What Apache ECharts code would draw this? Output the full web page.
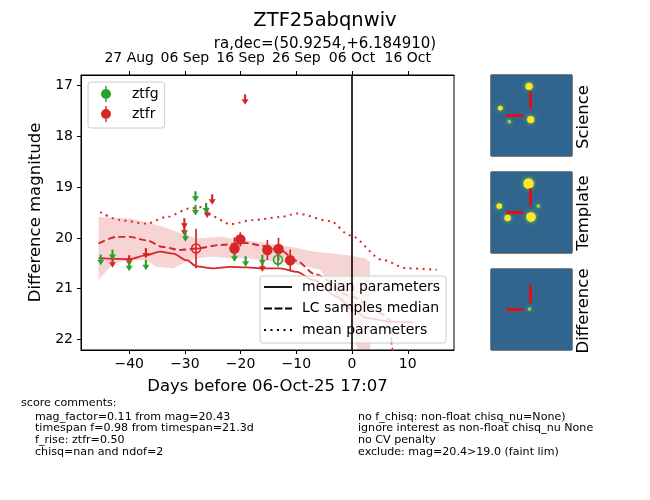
<!DOCTYPE html>
<html>
<head>
<meta charset="utf-8">
<script src="https://cdn.jsdelivr.net/npm/echarts@6/dist/echarts.min.js"></script>
<style>
  html, body { margin: 0; padding: 0; background: #fff; }
  #chart { width: 650px; height: 500px; }
</style>
</head>
<body>
<div id="chart"></div>
<script>
// Axis ticks
const xTicks = [-40, -30, -20, -10, 0, 10];
const topTickLabels = ['27 Aug', '06 Sep', '16 Sep', '26 Sep', '06 Oct', '16 Oct'];
const yTicks = [17, 18, 19, 20, 21, 22];

// Model curves: [days, mag]
const medianCurve = [[-45.5, 20.40], [-39.9, 20.42], [-36.9, 20.34], [-34.5, 20.27], [-32.1, 20.31], [-29.7, 20.44],
    [-27.9, 20.56], [-25.0, 20.60], [-21.9, 20.57], [-18.9, 20.58], [-16.0, 20.60], [-12.9, 20.60], [-9.9, 20.67],
    [-7.0, 20.83], [-2.7, 21.16], [0.2, 21.42], [2.7, 21.58], [6.8, 21.65], [11.0, 21.67]];
const samplesCurve = [[-45.5, 20.11], [-42.2, 19.98], [-39.9, 19.98], [-36.9, 20.05], [-33.9, 20.18], [-30.9, 20.24],
    [-27.9, 20.21], [-23.7, 20.14], [-18.9, 20.10], [-15.9, 20.16], [-12.9, 20.24], [-10.0, 20.45], [-6.6, 20.72],
    [-0.4, 21.14], [5.0, 21.48], [6.8, 21.62], [7.2, 22.17], [7.6, 23.0]];
const meanCurve = [[-45.2, 19.49], [-41.7, 19.65], [-36.9, 19.72], [-33.3, 19.59], [-29.1, 19.42], [-26.7, 19.39],
    [-25.0, 19.58], [-21.9, 19.73], [-17.8, 19.65], [-12.9, 19.59], [-9.9, 19.52], [-3.9, 19.67], [-0.4, 19.95],
    [5.6, 20.44], [9.8, 20.60], [15.2, 20.63]];

// LC samples spread (band edges)
const bandUpper = [[-45.5, 19.59], [-39.9, 19.62], [-36.9, 19.69], [-33.9, 19.78], [-30.9, 19.91], [-27.9, 20.01],
    [-23.7, 19.98], [-18.9, 20.05], [-15.5, 20.10], [-9.9, 20.20], [-7.0, 20.27], [-0.9, 20.34], [2.3, 20.40],
    [3.2, 20.47], [3.3, 23.0]];
const bandLower = [[-45.5, 20.83], [-42.8, 20.50], [-39.9, 20.44], [-36.9, 20.44], [-35.1, 20.57], [-32.1, 20.60],
    [-29.7, 20.47], [-27.9, 20.40], [-25.0, 20.37], [-21.9, 20.40], [-18.9, 20.40], [-15.9, 20.44], [-12.9, 20.48],
    [-9.9, 20.52], [-5.7, 20.63], [-3.9, 20.93], [-0.4, 21.62], [1.1, 22.2], [1.5, 23.0]];

// Photometry: detections [days, mag, err], limits [days, mag]
const ztfrDet = [[-21.1, 20.21, 0.22], [-20.05, 20.03, 0.14], [-15.2, 20.24, 0.2], [-13.2, 20.22, 0.22], [-11.1, 20.44, 0.21]];
const ztfrDetOpen = [[-28.0, 20.21, 0.39]];
const ztfgDetOpen = [[-13.3, 20.43, 0.14]];
const ztfgLim = [[-45.1, 20.44], [-43.0, 20.34], [-40.0, 20.56], [-37.0, 20.54], [-29.9, 19.98], [-28.1, 19.19],
    [-28.1, 19.46], [-26.2, 19.42], [-21.1, 20.37], [-19.1, 20.47], [-16.1, 20.44]];
const ztfrLim = [[-43.0, 20.49], [-40.0, 20.45], [-37.0, 20.31], [-30.1, 19.72], [-30.1, 19.86], [-26.0, 19.51],
    [-25.1, 19.25], [-19.2, 17.28], [-16.1, 20.57]];

// Cutout sources: [x frac, y frac, brightness]
const sciSources = [[0.47, 0.14, 0.6], [0.49, 0.55, 0.6], [0.115, 0.41, 0.3], [0.226, 0.575, 0.15]];
const tplSources = [[0.464, 0.143, 1.0], [0.494, 0.556, 0.9], [0.102, 0.42, 0.4], [0.205, 0.568, 0.5], [0.584, 0.42, 0.15]];
const difSources = [[0.477, 0.494, 0.1]];
const crossV = [[0.49, 0.2], [0.49, 0.42]];
const crossH = [[0.19, 0.5], [0.40, 0.5]];
const panelNames = ['Science', 'Template', 'Difference'];

const commentTitle = 'score comments:';
const commentsLeft = ['mag_factor=0.11 from mag=20.43', 'timespan f=0.98 from timespan=21.3d', 'f_rise: ztfr=0.50', 'chisq=nan and ndof=2'];
const commentsRight = ['no f_chisq: non-float chisq_nu=None)', 'ignore interest as non-float chisq_nu None', 'no CV penalty', 'exclude: mag=20.4>19.0 (faint lim)'];

const GREEN = '#2ca02c';
const RED = '#d62728';
const FONT = 'DejaVu Sans';

const chart = echarts.init(document.getElementById('chart'));

function minus(v) {
    return v < 0 ? '\u2212' + Math.abs(v) : String(v);
}

// vertical error bars; withCross adds the short horizontal stroke of the open red marker
function errorBars(rows, color, withCross) {
    return {
        type: 'custom', xAxisIndex: 0, yAxisIndex: 0, clip: true, z: 4, silent: true,
        data: rows,
        renderItem: function (params, api) {
            const d = api.value(0), m = api.value(1), e = api.value(2);
            const a = api.coord([d, m - e]);
            const b = api.coord([d, m + e]);
            const c = api.coord([d, m]);
            const kids = [{ type: 'line', shape: { x1: a[0], y1: a[1], x2: b[0], y2: b[1] }, style: { stroke: color, lineWidth: 1.7 } }];
            if (withCross) {
                kids.push({ type: 'line', shape: { x1: c[0] - 4.5, y1: c[1], x2: c[0] + 4.5, y2: c[1] }, style: { stroke: color, lineWidth: 1.5 }, z2: 10 });
            }
            return { type: 'group', children: kids };
        }
    };
}

function limits(rows, color) {
    return {
        type: 'custom', xAxisIndex: 0, yAxisIndex: 0, clip: true, z: 5, silent: true,
        data: rows,
        renderItem: function (params, api) {
            const p = api.coord([api.value(0), api.value(1)]);
            return {
                type: 'group', children: [
                    { type: 'line', shape: { x1: p[0], y1: p[1] - 5.5, x2: p[0], y2: p[1] + 0.5 }, style: { stroke: color, lineWidth: 2.2 } },
                    { type: 'polygon', shape: { points: [[p[0] - 3.5, p[1] - 0.5], [p[0] + 3.5, p[1] - 0.5], [p[0], p[1] + 5]] }, style: { fill: color } }
                ]
            };
        }
    };
}

function curve(points, type, width) {
    return {
        type: 'line', xAxisIndex: 0, yAxisIndex: 0, data: points, symbol: 'none', smooth: 0.3, smoothMonotone: 'x',
        z: 3, silent: true, lineStyle: { color: RED, width: width, type: type }
    };
}

// Cutout panels
const panelTops = [75, 172, 269];
const panelSources = [sciSources, tplSources, difSources];
const grids = [{ left: 81, top: 75, width: 373, height: 275, show: true, borderColor: '#000', borderWidth: 1 }];
const xAxes = [
    {
        type: 'value', gridIndex: 0, min: -48.65, max: 18.3, position: 'bottom',
        name: 'Days before 06-Oct-25 17:07', nameLocation: 'middle', nameGap: 28,
        nameTextStyle: { fontSize: 16.5, color: '#000', fontFamily: FONT },
        axisLine: { show: true, onZero: false, lineStyle: { color: '#000' } },
        axisTick: { customValues: xTicks, length: 4, lineStyle: { color: '#000' } },
        axisLabel: { customValues: xTicks, formatter: minus, fontSize: 14, color: '#000', margin: 7, fontFamily: FONT },
        splitLine: { show: false }
    },
    {
        type: 'value', gridIndex: 0, min: -48.65, max: 18.3, position: 'top',
        axisLine: { show: true, onZero: false, lineStyle: { color: '#000' } },
        axisTick: { customValues: xTicks, length: 4, lineStyle: { color: '#000' } },
        axisLabel: {
            customValues: xTicks, fontSize: 14, color: '#000', margin: 10, fontFamily: FONT,
            formatter: function (v) { return topTickLabels[xTicks.indexOf(v)] || ''; }
        },
        splitLine: { show: false }
    }
];
const yAxes = [{
    type: 'value', gridIndex: 0, min: 16.79, max: 22.21, inverse: true,
    name: 'Difference magnitude', nameLocation: 'middle', nameGap: 36,
    nameTextStyle: { fontSize: 16.5, color: '#000', fontFamily: FONT },
    axisLine: { show: true, onZero: false, lineStyle: { color: '#000' } },
    axisTick: { customValues: yTicks, length: 4, lineStyle: { color: '#000' } },
    axisLabel: { customValues: yTicks, fontSize: 14, color: '#000', margin: 8, fontFamily: FONT },
    splitLine: { show: false }
}];

const panelSeries = [];
panelTops.forEach(function (top, i) {
    const xi = xAxes.length, yi = yAxes.length;
    grids.push({ left: 491, top: top, width: 81, height: 81, show: true, borderColor: '#000', borderWidth: 1 });
    xAxes.push({ type: 'value', gridIndex: i + 1, min: 0, max: 1, show: false });
    yAxes.push({ type: 'value', gridIndex: i + 1, min: 0, max: 1, inverse: true, show: false });
    // image background filling the panel
    panelSeries.push({
        type: 'custom', xAxisIndex: xi, yAxisIndex: yi, silent: true, z: 1,
        data: [[0, 0]],
        renderItem: function (params, api) {
            const a = api.coord([0, 0]);
            const b = api.coord([1, 1]);
            return { type: 'rect', shape: { x: a[0], y: a[1], width: b[0] - a[0], height: b[1] - a[1] }, style: { fill: '#31658d' } };
        }
    });
    panelSeries.push({
        type: 'scatter', xAxisIndex: xi, yAxisIndex: yi, silent: true, z: 10,
        data: panelSources[i],
        symbolSize: function (v) { return 2.5 + 8 * v[2]; },
        itemStyle: {
            color: function (p) { return p.value[2] > 0.25 ? '#fde725' : '#8fd744'; },
            shadowBlur: 4, shadowColor: '#7ad151', opacity: 1
        }
    });
    panelSeries.push({
        type: 'lines', coordinateSystem: 'cartesian2d', xAxisIndex: xi, yAxisIndex: yi, silent: true, z: 11,
        data: [{ coords: crossV }, { coords: crossH }],
        lineStyle: { color: '#ff0000', width: 2.5, opacity: 1 }
    });
});

const graphics = [];
const FOOT = '11.1px "DejaVu Sans"';
graphics.push({ type: 'text', left: 21, top: 398, style: { text: commentTitle, font: FOOT, fill: '#000' } });
const commentY = [412, 423, 435, 447];
commentsLeft.forEach(function (t, i) {
    graphics.push({ type: 'text', left: 35, top: commentY[i], style: { text: t, font: FOOT, fill: '#000' } });
});
commentsRight.forEach(function (t, i) {
    graphics.push({ type: 'text', left: 358, top: commentY[i], style: { text: t, font: FOOT, fill: '#000' } });
});
const labelY = [117, 213, 311];
panelNames.forEach(function (t, i) {
    graphics.push({
        type: 'text', x: 584, y: labelY[i], rotation: Math.PI / 2,
        style: { text: t, font: '16.5px "DejaVu Sans"', fill: '#000', textAlign: 'center', textVerticalAlign: 'middle', verticalAlign: 'middle' }
    });
});

// legend handles drawn like matplotlib line handles
const solidIcon = 'path://M0,0h28v1.8h-28z';
const dashIcon = 'path://M0,0h8v1.9h-8z M10.5,0h8v1.9h-8z M21,0h7v1.9h-7z';
const dotIcon = 'path://M0,0h2v2h-2z M6.5,0h2v2h-2z M13,0h2v2h-2z M19.5,0h2v2h-2z M26,0h2v2h-2z';

const option = {
    animation: false,
    textStyle: { fontFamily: FONT },
    title: [
        { text: 'ZTF25abqnwiv', left: 'center', top: 6, textStyle: { fontSize: 19.5, fontWeight: 'normal', color: '#000', fontFamily: FONT } },
        { text: 'ra,dec=(50.9254,+6.184910)', left: 'center', top: 32, textStyle: { fontSize: 15, fontWeight: 'normal', color: '#000', fontFamily: FONT } }
    ],
    legend: [
        {
            data: ['ztfg', 'ztfr'], orient: 'vertical', left: 88, top: 82,
            padding: [4, 6, 6, 13], itemGap: 4, itemWidth: 14, itemHeight: 16,
            icon: 'path://M7.3,0h1.4v3h-1.4z M3,8a5,5 0 1,1 10,0a5,5 0 1,1 -10,0z M7.3,13h1.4v3h-1.4z',
            backgroundColor: 'rgba(255,255,255,0.8)', borderColor: '#cccccc', borderWidth: 1, borderRadius: 3,
            textStyle: { fontSize: 14, color: '#000', fontFamily: FONT, padding: [0, 0, 0, 14] },
            selectedMode: false
        },
        {
            data: [
                { name: 'median parameters', icon: solidIcon },
                { name: 'LC samples median', icon: dashIcon },
                { name: 'mean parameters', icon: dotIcon }
            ],
            orient: 'vertical', left: 260, top: 276,
            padding: [4, 6, 6, 4], itemGap: 7.5, itemWidth: 28, itemHeight: 14,
            backgroundColor: 'rgba(255,255,255,0.8)', borderColor: '#cccccc', borderWidth: 1, borderRadius: 3,
            textStyle: { fontSize: 14, color: '#000', fontFamily: FONT, padding: [0, 0, 0, 5] },
            selectedMode: false
        }
    ],
    grid: grids,
    xAxis: xAxes,
    yAxis: yAxes,
    graphic: graphics,
    series: [
        {
            type: 'custom', xAxisIndex: 0, yAxisIndex: 0, clip: true, z: 1, silent: true,
            data: bandUpper,
            renderItem: function (params, api) {
                if (params.dataIndex !== 0) return null;
                const pts = bandUpper.map(function (p) { return api.coord(p); })
                    .concat(bandLower.slice().reverse().map(function (p) { return api.coord(p); }));
                return { type: 'polygon', shape: { points: pts }, style: { fill: 'rgba(214,39,40,0.2)' } };
            }
        },
        Object.assign(curve(medianCurve, 'solid', 1.8), {
            markLine: {
                silent: true, symbol: ['none', 'none'], label: { show: false },
                lineStyle: { color: '#000', width: 1.6, type: 'solid' },
                data: [{ xAxis: 0 }]
            }
        }),
        curve(samplesCurve, [7, 3.5], 1.9),
        curve(meanCurve, [2, 4.5], 2),
        errorBars(ztfrDet, RED, false),
        errorBars(ztfrDetOpen, RED, true),
        errorBars(ztfgDetOpen, GREEN, false),
        limits(ztfrLim, RED),
        limits(ztfgLim, GREEN),
        {
            type: 'scatter', xAxisIndex: 0, yAxisIndex: 0, z: 6, silent: true, symbolSize: 10.5,
            data: ztfrDet.map(function (r) { return [r[0], r[1]]; }), itemStyle: { color: RED, opacity: 1 }
        },
        {
            type: 'scatter', xAxisIndex: 0, yAxisIndex: 0, z: 6, silent: true, symbol: 'circle', symbolSize: 9,
            data: ztfrDetOpen.map(function (r) { return [r[0], r[1]]; }),
            itemStyle: { color: 'rgba(0,0,0,0)', borderColor: RED, borderWidth: 1.5, opacity: 1 }
        },
        {
            type: 'scatter', xAxisIndex: 0, yAxisIndex: 0, z: 6, silent: true, symbol: 'circle', symbolSize: 9,
            data: ztfgDetOpen.map(function (r) { return [r[0], r[1]]; }),
            itemStyle: { color: 'rgba(0,0,0,0)', borderColor: GREEN, borderWidth: 1.5, opacity: 1 }
        },
        // legend-only entries
        { name: 'ztfg', type: 'scatter', xAxisIndex: 0, yAxisIndex: 0, data: [], itemStyle: { color: GREEN, opacity: 1 } },
        { name: 'ztfr', type: 'scatter', xAxisIndex: 0, yAxisIndex: 0, data: [], itemStyle: { color: RED, opacity: 1 } },
        { name: 'median parameters', type: 'line', xAxisIndex: 0, yAxisIndex: 0, data: [], symbol: 'none', itemStyle: { color: '#000' }, lineStyle: { color: '#000' } },
        { name: 'LC samples median', type: 'line', xAxisIndex: 0, yAxisIndex: 0, data: [], symbol: 'none', itemStyle: { color: '#000' }, lineStyle: { color: '#000' } },
        { name: 'mean parameters', type: 'line', xAxisIndex: 0, yAxisIndex: 0, data: [], symbol: 'none', itemStyle: { color: '#000' }, lineStyle: { color: '#000' } }
    ].concat(panelSeries)
};

chart.setOption(option);
</script>
</body>
</html>
